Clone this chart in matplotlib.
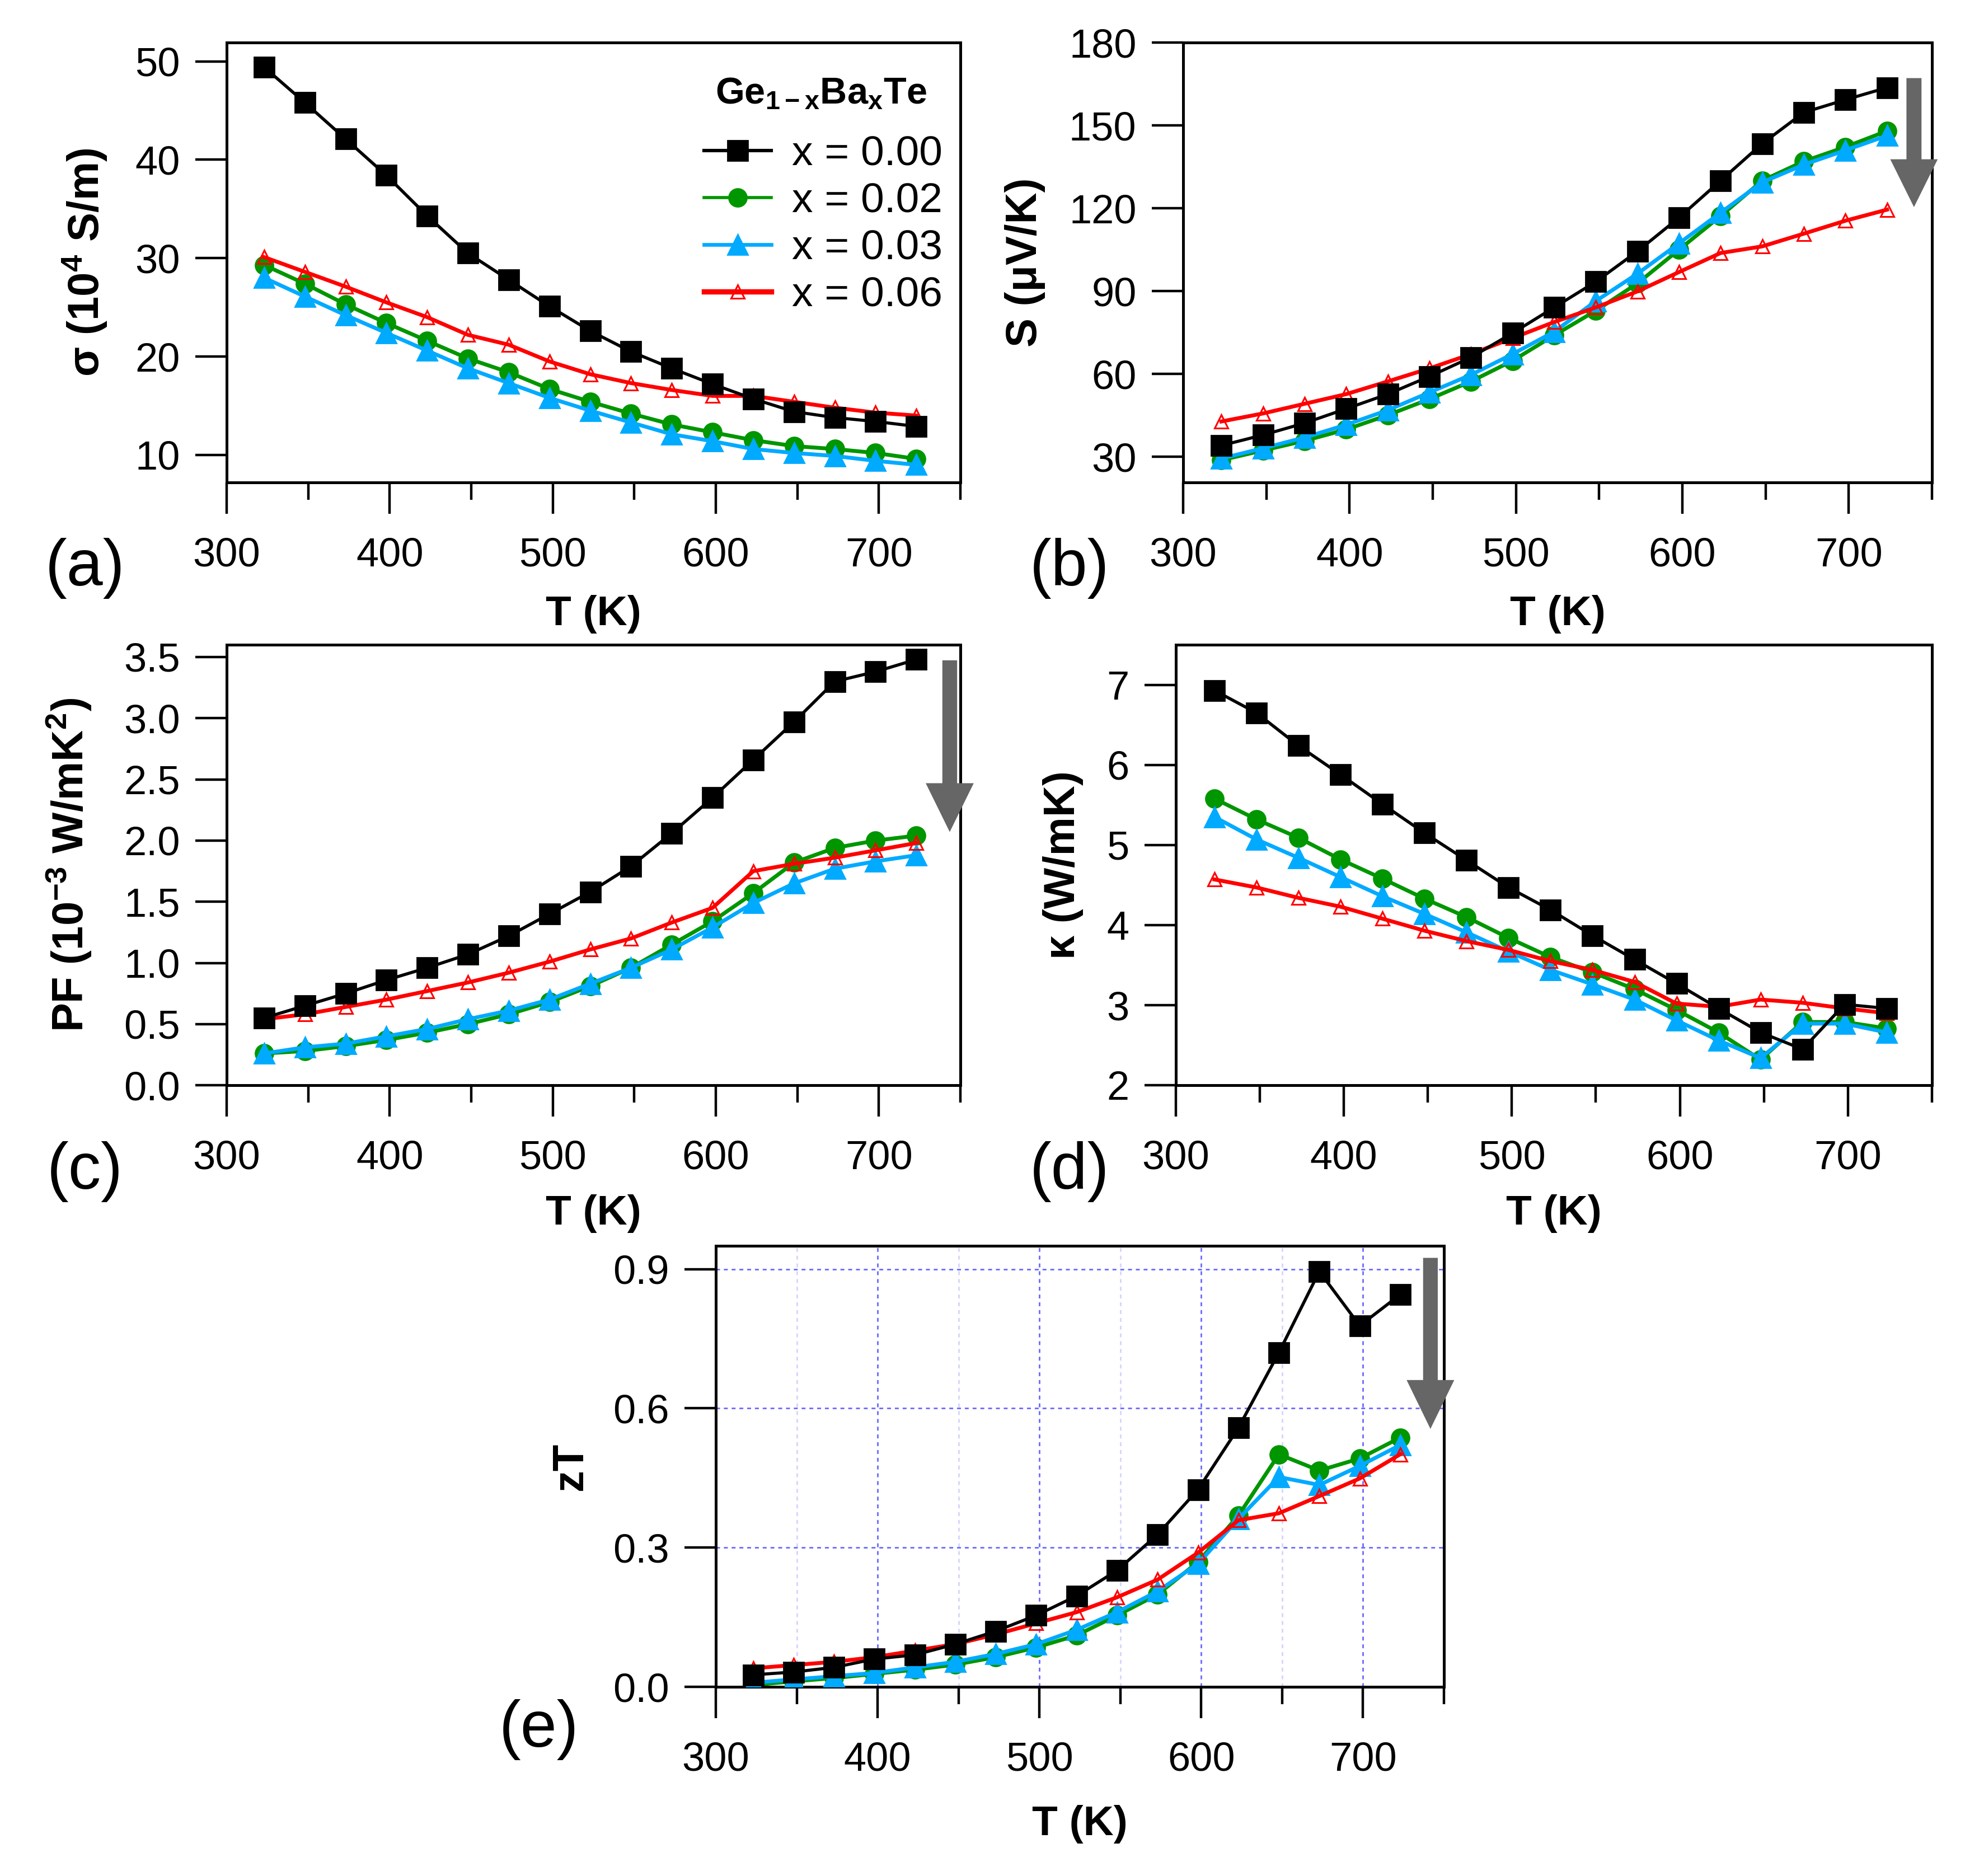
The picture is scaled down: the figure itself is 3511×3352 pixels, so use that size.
import matplotlib
matplotlib.use("Agg")
import matplotlib.pyplot as plt
from matplotlib.patches import FancyArrow
from matplotlib.ticker import MultipleLocator, FormatStrFormatter

plt.rcParams['font.family'] = ['Liberation Sans', 'DejaVu Sans']
plt.rcParams['mathtext.fontset'] = 'custom'
plt.rcParams['mathtext.rm'] = 'Liberation Sans:bold'
plt.rcParams['mathtext.it'] = 'Liberation Sans:bold'
plt.rcParams['mathtext.bf'] = 'Liberation Sans:bold'
plt.rcParams['mathtext.default'] = 'regular'

# temperatures (K)
T = [323, 348, 373, 398, 423, 448, 473, 498, 523, 548, 573, 598, 623, 648, 673, 698, 723]
labels = ["x = 0.00", "x = 0.02", "x = 0.03", "x = 0.06"]

# electrical conductivity (10^4 S/m)
sigma_000 = [49.4, 45.8, 42.1, 38.4, 34.3, 30.5, 27.8, 25.1, 22.6, 20.5, 18.8, 17.2, 15.7, 14.4, 13.8, 13.4, 12.9]
sigma_002 = [29.3, 27.4, 25.3, 23.4, 21.6, 19.8, 18.4, 16.7, 15.4, 14.2, 13.1, 12.3, 11.5, 10.9, 10.6, 10.2, 9.6]
sigma_003 = [28.0, 26.1, 24.2, 22.4, 20.6, 18.8, 17.3, 15.8, 14.5, 13.3, 12.1, 11.4, 10.6, 10.2, 9.9, 9.4, 9.0]
sigma_006 = [30.1, 28.6, 27.1, 25.5, 24.0, 22.2, 21.2, 19.5, 18.2, 17.3, 16.6, 16.0, 16.0, 15.4, 14.8, 14.3, 14.0]

# Seebeck coefficient (uV/K)
S_000 = [34.1, 37.9, 42.2, 47.4, 52.7, 59.1, 66.0, 74.8, 84.1, 93.4, 104.4, 116.6, 130.0, 143.4, 154.7, 159.3, 163.7]
S_002 = [28.8, 32.3, 35.8, 39.9, 45.1, 50.9, 57.3, 64.8, 74.0, 82.9, 92.8, 105.0, 117.2, 130.0, 137.0, 142.2, 148.0]
S_003 = [29.4, 33.1, 37.0, 41.6, 46.9, 53.3, 59.7, 67.2, 75.3, 86.4, 96.3, 107.3, 118.4, 129.4, 135.8, 141.0, 146.3]
S_006 = [42.8, 45.7, 49.2, 52.7, 57.3, 62.0, 67.2, 73.0, 78.8, 84.1, 89.9, 96.9, 103.8, 106.2, 110.8, 115.5, 119.5]

# power factor (10^-3 W/mK^2)
PF_000 = [0.55, 0.65, 0.75, 0.86, 0.96, 1.07, 1.22, 1.40, 1.58, 1.79, 2.06, 2.35, 2.66, 2.97, 3.30, 3.38, 3.48]
PF_002 = [0.26, 0.28, 0.32, 0.37, 0.43, 0.50, 0.58, 0.68, 0.81, 0.96, 1.15, 1.34, 1.57, 1.82, 1.94, 2.00, 2.04]
PF_003 = [0.26, 0.31, 0.34, 0.40, 0.46, 0.54, 0.61, 0.70, 0.83, 0.96, 1.11, 1.29, 1.49, 1.65, 1.77, 1.83, 1.88]
PF_006 = [0.54, 0.58, 0.64, 0.70, 0.77, 0.84, 0.92, 1.01, 1.11, 1.20, 1.33, 1.45, 1.75, 1.81, 1.86, 1.92, 1.98]

# thermal conductivity (W/mK)
kappa_000 = [6.93, 6.65, 6.24, 5.88, 5.51, 5.15, 4.81, 4.47, 4.19, 3.87, 3.57, 3.27, 2.96, 2.66, 2.45, 3.01, 2.96]
kappa_002 = [5.58, 5.32, 5.09, 4.82, 4.58, 4.33, 4.10, 3.84, 3.60, 3.41, 3.20, 2.94, 2.66, 2.32, 2.79, 2.79, 2.71]
kappa_003 = [5.35, 5.07, 4.84, 4.60, 4.36, 4.14, 3.91, 3.67, 3.44, 3.26, 3.07, 2.81, 2.56, 2.34, 2.77, 2.77, 2.66]
kappa_006 = [4.57, 4.47, 4.34, 4.23, 4.08, 3.93, 3.80, 3.69, 3.55, 3.44, 3.29, 3.02, 2.98, 3.07, 3.03, 2.96, 2.90]

# figure of merit
zT_000 = [0.026, 0.032, 0.042, 0.060, 0.069, 0.092, 0.120, 0.154, 0.196, 0.251, 0.328, 0.425, 0.558, 0.720, 0.895, 0.778, 0.845]
zT_002 = [0.004, 0.012, 0.019, 0.028, 0.037, 0.048, 0.064, 0.085, 0.111, 0.154, 0.199, 0.269, 0.369, 0.501, 0.466, 0.492, 0.537]
zT_003 = [0.009, 0.016, 0.023, 0.030, 0.042, 0.054, 0.071, 0.092, 0.123, 0.161, 0.206, 0.265, 0.362, 0.452, 0.435, 0.476, 0.521]
zT_006 = [0.040, 0.047, 0.054, 0.064, 0.078, 0.092, 0.113, 0.137, 0.161, 0.193, 0.231, 0.289, 0.359, 0.374, 0.411, 0.449, 0.501]

# line styles for the four compositions
styles = [
    dict(color="black", marker="s", ms=13, lw=2.0, zorder=5),
    dict(color="#009600", marker="o", ms=11.5, lw=2.5, zorder=2),
    dict(color="#00AAFF", marker="^", ms=13, lw=2.5, zorder=3),
    dict(color="#FF0000", marker="^", ms=8.5, lw=2.5, mfc="none", mec="#FF0000", mew=1.1, zorder=4),
]

fig = plt.figure(figsize=(17.56, 16.76), dpi=200)


def make_panel(rect, series, ylim, yticks, yfmt, ylabel, ylab_x, xlab_y):
    ax = fig.add_axes(rect)
    for y, st, lab in zip(series, styles, labels):
        ax.plot(T, y, label=lab, **st)
    ax.set_xlim(300, 750)
    ax.set_ylim(*ylim)
    ax.xaxis.set_major_locator(MultipleLocator(100))
    ax.xaxis.set_minor_locator(MultipleLocator(50))
    ax.set_yticks(yticks)
    ax.yaxis.set_major_formatter(FormatStrFormatter(yfmt))
    ax.tick_params(which="major", direction="out", length=20, width=1.6, labelsize=26)
    ax.tick_params(which="minor", direction="out", length=11, width=1.6)
    ax.tick_params(axis="x", which="major", pad=15)
    ax.tick_params(axis="y", which="major", pad=10)
    for sp in ax.spines.values():
        sp.set_linewidth(1.8)
    ax.set_xlabel("T (K)", fontsize=27, fontweight="bold")
    ax.set_ylabel(ylabel, fontsize=28, fontweight="bold")
    ax.xaxis.set_label_coords(0.5, xlab_y)
    ax.xaxis.label.set_va("center")
    ax.yaxis.set_label_coords(ylab_x, 0.5)
    ax.yaxis.label.set_va("center")
    return ax


def down_arrow(ax, x, top, tip, w, hw, hl):
    ax.add_patch(FancyArrow(x, top, 0, tip - top, width=w, head_width=hw, head_length=hl,
                            length_includes_head=True, transform=ax.transAxes,
                            color="#666666", clip_on=False, zorder=6))


# (a) conductivity
ax_a = make_panel([0.1153, 0.7428, 0.3733, 0.2345], [sigma_000, sigma_002, sigma_003, sigma_006],
                  (7.2, 51.9), [10, 20, 30, 40, 50], "%d", "σ (10$^{4}$ S/m)", -0.193, -0.30)
leg = ax_a.legend(loc="upper right", bbox_to_anchor=(0.976, 0.79), frameon=False, fontsize=27,
                  borderpad=0, borderaxespad=0,
                  handlelength=1.6, handletextpad=0.5, labelspacing=0.2)
for h, w in zip(leg.get_lines(), [2.2, 2.0, 2.4, 3.4]):
    h.set_linewidth(w)
ax_a.text(0.81, 0.883, "Ge$_{1-x}$Ba$_{x}$Te", transform=ax_a.transAxes, fontsize=24,
          fontweight="bold", ha="center", va="center")

# (b) Seebeck
ax_b = make_panel([0.6019, 0.7428, 0.381, 0.2345], [S_000, S_002, S_003, S_006],
                  (20.7, 180), [30, 60, 90, 120, 150, 180], "%d", "S (μV/K)", -0.211, -0.30)
down_arrow(ax_b, 0.976, 0.9175, 0.630, 0.018, 0.06, 0.103)

# (c) power factor
ax_c = make_panel([0.1153, 0.4215, 0.3733, 0.2348], [PF_000, PF_002, PF_003, PF_006],
                  (0, 3.6), [0, 0.5, 1.0, 1.5, 2.0, 2.5, 3.0, 3.5], "%.1f",
                  "PF (10$^{-3}$ W/mK$^{2}$)", -0.215, -0.291)
down_arrow(ax_c, 0.9855, 0.963, 0.579, 0.018, 0.062, 0.105)

# (d) thermal conductivity
ax_d = make_panel([0.5982, 0.4215, 0.3847, 0.2348], [kappa_000, kappa_002, kappa_003, kappa_006],
                  (2, 7.5), [2, 3, 4, 5, 6, 7], "%d", "κ (W/mK)", -0.149, -0.291)

# (e) zT
ax_e = make_panel([0.3642, 0.1008, 0.3704, 0.2351], [zT_000, zT_002, zT_003, zT_006],
                  (0, 0.95), [0, 0.3, 0.6, 0.9], "%.1f", "zT", -0.20, -0.311)
ax_e.set_axisbelow(True)
ax_e.grid(which="major", color="#6A6AFF", linestyle=(0, (2.5, 2.5)), linewidth=1.0)
ax_e.grid(which="minor", axis="x", color="#D4D4FF", linestyle=(0, (2.5, 2.5)), linewidth=1.0)
down_arrow(ax_e, 0.9815, 0.971, 0.589, 0.018, 0.062, 0.105)

# panel letters
for txt, px, py in [("(a)", 0.0433, 0.697), ("(b)", 0.544, 0.697), ("(c)", 0.0433, 0.3753),
                    ("(d)", 0.544, 0.3753), ("(e)", 0.2742, 0.0779)]:
    fig.text(px, py, txt, fontsize=42, ha="center", va="center")

fig.savefig("out.png", dpi=200)
